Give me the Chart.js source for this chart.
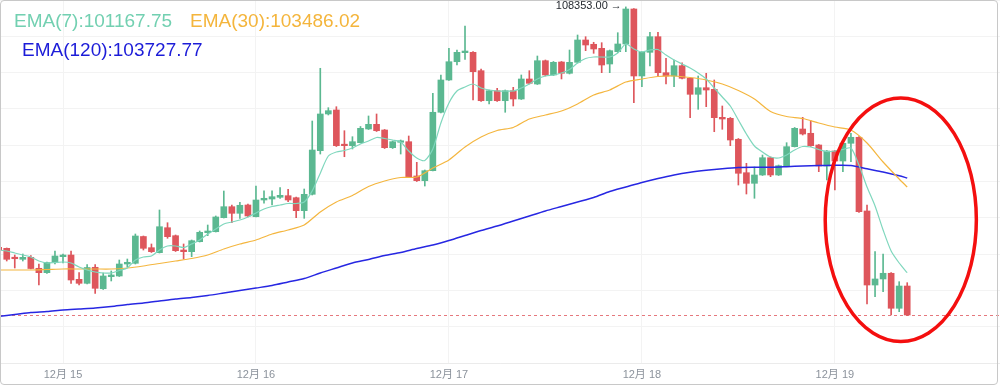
<!DOCTYPE html>
<html>
<head>
<meta charset="utf-8">
<script src="https://cdn.jsdelivr.net/npm/chart.js@4/dist/chart.umd.min.js"></script>
<style>
  html, body { margin: 0; padding: 0; background: #fff; }
  #wrap { position: relative; width: 1000px; height: 389px; overflow: hidden; }
  #frame { position: absolute; left: 0; top: 0; width: 998px; height: 385px; box-sizing: border-box;
           border: 1px solid #c8c8c8; border-radius: 4px; pointer-events: none; }
  .ema { position: absolute; font-family: "Liberation Sans", Arial, sans-serif; font-size: 19px;
         line-height: 19px; white-space: nowrap; }
</style>
</head>
<body>
<div id="wrap">
  <canvas id="chart" width="1000" height="389"></canvas>
  <div class="ema" id="ema7" style="left:14px; top:11px; color:#72d0b1"></div>
  <div class="ema" id="ema30" style="left:190px; top:11px; color:#f4b53c"></div>
  <div class="ema" id="ema120" style="left:22px; top:40px; color:#1c1cd8"></div>
  <div id="frame"></div>
</div>
<script>
  // hourly candles, hour 0 = 12月15 00:00
  const firstHour = -8;
  const dayHours = [0, 24, 48, 72, 96];
  const dayLabels = ['12月 15', '12月 16', '12月 17', '12月 18', '12月 19'];

  const opens = [101855, 101828, 101585, 101531, 101585, 101288, 101169, 101439,
    101602, 101647, 100990, 100882, 101315, 100736, 101061, 101080, 101404, 101423,
    102147, 101845, 101710, 102385, 102169, 101782, 101737, 102007, 102250, 102277,
    102656, 102953, 102774, 102999, 102683, 103134, 103161, 103207, 103250, 103196,
    102845, 103288, 104467, 105459, 105567, 104640, 104602, 104683, 105053, 105180,
    105026, 104548, 104694, 104710, 103783, 103656, 103926, 105505, 106378, 106872,
    107116, 107126, 106629, 105818, 106088, 105818, 106088, 105864, 106405, 106269,
    106899, 106513, 106864, 106559, 106856, 107459, 107343, 107234, 106810, 107143,
    107351, 108297, 106486, 107126, 107548, 106575, 106486, 106764, 106424, 105991,
    106169, 106126, 105369, 105342, 104775, 103872, 103585, 103810, 104277, 103810,
    104061, 104575, 105053, 104937, 104621, 104053, 104458, 104188, 104667, 104829,
    102837, 100836, 100999, 101153, 100207, 100809];
  const highs = [101891, 101837, 101647, 101674, 101634, 101404, 101458, 101755,
    101674, 101755, 101169, 101391, 101391, 101161, 101215, 101512, 101539, 102215,
    102161, 101945, 102864, 102520, 102188, 101945, 102053, 102296, 102458, 102702,
    103377, 102999, 103072, 103026, 103512, 103385, 103385, 103467, 103423, 103215,
    103431, 105269, 106694, 105629, 105656, 105007, 104845, 105121, 105405, 105459,
    105040, 104729, 104756, 104864, 104153, 103945, 106018, 106513, 107234, 107188,
    107837, 107148, 106675, 106107, 106153, 106107, 106180, 106513, 106629, 107026,
    106918, 106878, 106878, 107188, 107594, 107548, 107397, 107386, 107188, 107656,
    108353, 108310, 107148, 107667, 107667, 106964, 106918, 106845, 106445, 106486,
    106559, 106378, 105675, 105364, 104796, 104126, 104026, 104350, 104296, 104080,
    104683, 105094, 105369, 105277, 104634, 104472, 104472, 104688, 104937, 104850,
    102999, 101737, 101674, 101174, 100926, 100899];
  const lows = [101755, 101485, 101296, 101485, 101269, 100836, 101147, 101404,
    101431, 100882, 100836, 100863, 100612, 100715, 100945, 101066, 101323, 101404,
    101782, 101715, 101701, 102099, 101742, 101539, 101602, 101999, 102169, 102269,
    102647, 102520, 102639, 102675, 102675, 103045, 102999, 103180, 103088, 102656,
    102639, 103269, 104377, 105432, 104580, 104304, 104513, 104675, 105040, 104986,
    104526, 104526, 104377, 103742, 103634, 103512, 103918, 105486, 106364, 106783,
    106937, 105837, 105796, 105729, 105796, 105505, 105675, 105851, 106269, 106256,
    106486, 106499, 106405, 106540, 106837, 107170, 107099, 106575, 106575, 107121,
    107143, 105764, 106196, 106756, 106486, 106269, 106196, 106405, 105359, 105586,
    105656, 104980, 105045, 104602, 103539, 103296, 103180, 103796, 103764, 103796,
    104053, 104567, 104891, 104580, 103899, 103675, 103404, 103899, 104169, 102796,
    100323, 100520, 100655, 100026, 100115, 100012];
  const closes = [101782, 101531, 101547, 101585, 101282, 101169, 101445, 101620,
    101647, 100972, 100882, 101309, 100747, 101080, 101107, 101404, 101450, 102161,
    101828, 101737, 102412, 102142, 101764, 101737, 102034, 102261, 102296, 102675,
    102953, 102774, 102991, 102702, 103134, 103180, 103223, 103261, 103134, 102845,
    103288, 104485, 105459, 105548, 104602, 104602, 104710, 105072, 105180, 105007,
    104548, 104710, 104729, 103764, 103656, 103926, 105505, 106378, 106872, 107126,
    107161, 106602, 105818, 106088, 105818, 106088, 105864, 106405, 106288, 106899,
    106513, 106856, 106559, 106856, 107459, 107324, 107216, 106783, 107170, 107351,
    108297, 106486, 107126, 107548, 106575, 106486, 106764, 106424, 105991, 106169,
    106107, 105359, 105323, 104756, 103856, 103585, 103810, 104277, 103810, 104061,
    104575, 105072, 104918, 104602, 104053, 104458, 104188, 104667, 104829, 102818,
    100836, 100999, 101153, 100207, 100809, 100026];

  // EMA(7), one value per candle
  const ema7 = [101782, 101755, 101701, 101647, 101593, 101485, 101431, 101445,
    101458, 101431, 101323, 101242, 101188, 101161, 101161, 101228, 101296, 101512,
    101593, 101620, 101782, 101891, 101891, 101850, 101945, 102053, 102215, 102350,
    102485, 102539, 102593, 102675, 102783, 102891, 102958, 102999, 103039, 103039,
    103080, 103380, 103860, 104323, 104431, 104472, 104540, 104648, 104729, 104823,
    104796, 104756, 104702, 104458, 104269, 104202, 104513, 105215, 105756, 106080,
    106188, 106269, 106161, 106107, 106080, 106080, 106080, 106161, 106269, 106405,
    106486, 106513, 106567, 106661, 106837, 106959, 106999, 106999, 106999, 107107,
    107351, 107216, 107134, 107188, 107202, 107053, 106918, 106810, 106702, 106567,
    106405, 106161, 105918, 105675, 105296, 104918, 104594, 104431, 104296, 104269,
    104350, 104485, 104580, 104567, 104499, 104445, 104458, 104499, 104540, 104080,
    103485, 102972, 102323, 101755, 101431, 101167.75];

  // EMA(30) and EMA(120), read every two hours
  const slowHours = [-8, -6, -4, -2, 0, 2, 4, 6, 8, 10, 12, 14, 16, 18, 20, 22, 24, 26,
    28, 30, 32, 34, 36, 38, 40, 42, 44, 46, 48, 50, 52, 54, 56, 58, 60, 62, 64, 66, 68,
    70, 72, 74, 76, 78, 80, 82, 84, 86, 88, 90, 92, 94, 96, 98, 100, 102, 104, 105];
  const ema30 = [101242, 101242, 101242, 101255, 101269, 101269, 101269, 101269,
    101296, 101350, 101418, 101485, 101553, 101647, 101810, 101945, 102053, 102215,
    102323, 102458, 102810, 103080, 103256, 103499, 103648, 103742, 103756, 103999,
    104215, 104567, 104837, 105013, 105094, 105323, 105432, 105540, 105729, 105972,
    106107, 106324, 106405, 106472, 106486, 106445, 106378, 106269, 106094, 105864,
    105526, 105391, 105337, 105215, 105107, 105026, 104675, 104161, 103702, 103486.02];
  const ema120 = [99990, 100039, 100093, 100120, 100161, 100188, 100215, 100255,
    100309, 100350, 100404, 100458, 100499, 100553, 100620, 100688, 100755, 100823,
    100918, 101012, 101161, 101296, 101431, 101526, 101634, 101715, 101823, 101918,
    102039, 102174, 102310, 102431, 102566, 102702, 102837, 102958, 103080, 103202,
    103364, 103485, 103607, 103715, 103810, 103883, 103937, 103980, 104012, 104018,
    104018, 104034, 104053, 104064, 104072, 104066, 103977, 103891, 103791, 103727.77];

  const hours = opens.map((_, i) => firstHour + i);

  const UP = '#5bb891';
  const DOWN = '#de565c';
  const candleColors = opens.map((o, i) => closes[i] >= o ? UP : DOWN);

  // red ring drawn round the last hours (hour / price units)
  const ring = { hour: 104.2, price: 102600, hourRadius: 9.4, priceRadius: 3290 };

  const last = a => a[a.length - 1];
  document.getElementById('ema7').textContent = 'EMA(7):' + last(ema7).toFixed(2);
  document.getElementById('ema30').textContent = 'EMA(30):' + last(ema30).toFixed(2);
  document.getElementById('ema120').textContent = 'EMA(120):' + last(ema120).toFixed(2);

  const overlay = {
    id: 'overlay',
    beforeDatasetsDraw(chart) {
      const { ctx, chartArea, scales: { y } } = chart;
      const py = Math.round(y.getPixelForValue(last(closes))) + 0.5;
      ctx.save();
      ctx.strokeStyle = 'rgba(222, 86, 92, 0.8)';
      ctx.lineWidth = 1;
      ctx.setLineDash([3, 3]);
      ctx.beginPath();
      ctx.moveTo(chartArea.left, py);
      ctx.lineTo(chartArea.right, py);
      ctx.stroke();
      ctx.restore();
    },
    afterDraw(chart) {
      const { ctx, scales: { x, y } } = chart;
      ctx.save();
      // highest price label
      const top = Math.max(...highs);
      const iTop = highs.indexOf(top);
      ctx.fillStyle = '#1e2329';
      ctx.font = '11px "Liberation Sans", Arial, sans-serif';
      ctx.textAlign = 'right';
      ctx.textBaseline = 'middle';
      ctx.fillText(top.toFixed(2) + ' \u2192', x.getPixelForValue(hours[iTop]) - 4, y.getPixelForValue(top) - 1);
      // ring
      const cx = x.getPixelForValue(ring.hour);
      const cy = y.getPixelForValue(ring.price);
      const rx = x.getPixelForValue(ring.hour + ring.hourRadius) - cx;
      const ry = cy - y.getPixelForValue(ring.price + ring.priceRadius);
      ctx.strokeStyle = '#f40f0f';
      ctx.lineWidth = 3.5;
      ctx.beginPath();
      ctx.ellipse(cx, cy, rx, ry, 0, 0, Math.PI * 2);
      ctx.stroke();
      ctx.restore();
    }
  };

  const lineStyle = { type: 'line', pointRadius: 0, fill: false, tension: 0.25 };

  new Chart(document.getElementById('chart'), {
    type: 'bar',
    data: {
      datasets: [
        { ...lineStyle, label: 'EMA(7)', data: hours.map((h, i) => ({ x: h, y: ema7[i] })),
          borderColor: '#7fd7bd', borderWidth: 1.2, order: 0 },
        { ...lineStyle, label: 'EMA(30)', data: slowHours.map((h, i) => ({ x: h, y: ema30[i] })),
          borderColor: '#f4b63f', borderWidth: 1.2, order: 1 },
        { ...lineStyle, label: 'EMA(120)', data: slowHours.map((h, i) => ({ x: h, y: ema120[i] })),
          borderColor: '#2727e2', borderWidth: 1.5, order: 2 },
        { label: 'body', data: hours.map((h, i) => ({ x: h, y: [opens[i], closes[i]] })),
          backgroundColor: candleColors, barThickness: 6, minBarLength: 1.5, grouped: false, order: 3 },
        { label: 'wick', data: hours.map((h, i) => ({ x: h, y: [lows[i], highs[i]] })),
          backgroundColor: candleColors, barThickness: 1, grouped: false, order: 4 }
      ]
    },
    options: {
      responsive: false,
      animation: false,
      devicePixelRatio: 1,
      layout: { padding: 0 },
      plugins: { legend: { display: false }, tooltip: { enabled: false } },
      scales: {
        x: {
          type: 'linear',
          min: -7.836,
          max: 116.54,
          offset: false,
          grid: { color: '#f3f3f3', drawTicks: false, offset: false },
          border: { color: '#ebebeb' },
          ticks: {
            color: '#8c939c',
            font: { size: 11, family: '"Liberation Sans", Arial, "Noto Sans CJK SC", sans-serif' },
            padding: 5,
            maxRotation: 0,
            autoSkip: false,
            callback: (v, i) => dayLabels[i]
          },
          afterBuildTicks: s => { s.ticks = dayHours.map(v => ({ value: v })); },
          afterFit: s => { s.height = 26; }
        },
        y: {
          min: 98728,
          max: 108540,
          grid: { color: '#f3f3f3', drawTicks: false },
          border: { display: false },
          ticks: { display: false, stepSize: 1000, includeBounds: false },
          afterFit: s => { s.width = 0; }
        }
      }
    },
    plugins: [overlay]
  });
</script>
</body>
</html>
